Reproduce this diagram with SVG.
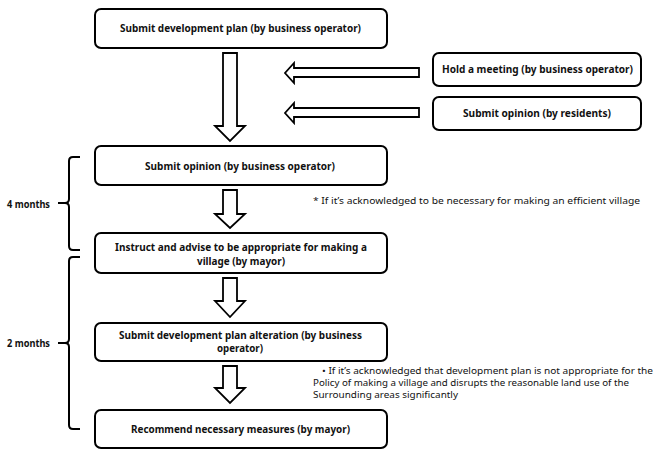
<svg xmlns="http://www.w3.org/2000/svg" width="654" height="450" viewBox="0 0 654 450">
<style>
.box{fill:#fff;stroke:#000;stroke-width:2}
.arr{fill:#fff;stroke:#000;stroke-width:1.8;stroke-linejoin:miter}
.br{fill:none;stroke:#000;stroke-width:2}
.t{font-family:"Noto Sans","Open Sans",sans-serif;font-weight:bold;font-size:10.5px;fill:#111;text-anchor:middle;dominant-baseline:central}
.n{font-family:"Noto Sans","Open Sans",sans-serif;font-size:9.5px;fill:#111;dominant-baseline:central}
</style>
<rect width="654" height="450" fill="#fff"/>
<g id="connectors">
<path class="arr" d="M223,53 L237,53 L237,126 L245,126 L230,141 L215,126 L223,126 Z"/>
<path class="arr" d="M419,68 L419,77 L294,77 L294,83 L285,73 L294,63 L294,68 Z"/>
<path class="arr" d="M419,108 L419,117 L294,117 L294,123 L285,113 L294,103 L294,108 Z"/>
<path class="arr" d="M223,190 L237,190 L237,214 L245,214 L230,228 L215,214 L223,214 Z"/>
<path class="arr" d="M223,278 L237,278 L237,301 L245,301 L230,317 L215,301 L223,301 Z"/>
<path class="arr" d="M223,366 L237,366 L237,388 L245,388 L230,403 L215,388 L223,388 Z"/>
</g>
<g id="n1"><rect class="box" x="95" y="9" width="292" height="39" rx="6"/><text class="t" x="240.5" y="28" textLength="241" lengthAdjust="spacingAndGlyphs">Submit development plan (by business operator)</text></g>
<g id="n2"><rect class="box" x="433" y="53" width="208" height="33" rx="6"/><text class="t" x="537.5" y="69" textLength="191" lengthAdjust="spacingAndGlyphs">Hold a meeting (by business operator)</text></g>
<g id="n3"><rect class="box" x="433" y="97" width="208" height="33" rx="6"/><text class="t" x="537" y="113" textLength="148" lengthAdjust="spacingAndGlyphs">Submit opinion (by residents)</text></g>
<g id="n4"><rect class="box" x="95" y="146" width="292" height="39" rx="6"/><text class="t" x="240" y="166" textLength="190" lengthAdjust="spacingAndGlyphs">Submit opinion (by business operator)</text></g>
<g id="n5"><rect class="box" x="95" y="233" width="292" height="40" rx="6"/><text class="t" x="241" y="247" textLength="252" lengthAdjust="spacingAndGlyphs">Instruct and advise to be appropriate for making a</text><text class="t" x="241" y="261" textLength="88" lengthAdjust="spacingAndGlyphs">village (by mayor)</text></g>
<g id="n6"><rect class="box" x="95" y="323" width="292" height="38" rx="6"/><text class="t" x="240.5" y="335" textLength="243" lengthAdjust="spacingAndGlyphs">Submit development plan alteration (by business</text><text class="t" x="240" y="348" textLength="46" lengthAdjust="spacingAndGlyphs">operator)</text></g>
<g id="n7"><rect class="box" x="95" y="410" width="292" height="38" rx="6"/><text class="t" x="240.5" y="429" textLength="219" lengthAdjust="spacingAndGlyphs">Recommend necessary measures (by mayor)</text></g>
<g id="braces">
<path class="br" d="M80,157 L73,157 Q69,157 69,161 L69,199 Q69,203 65,203 L58,203 M65,203 Q69,203 69,207 L69,246 Q69,250 73,250 L80,250"/>
<path class="br" d="M80,257 L73,257 Q69,257 69,261 L69,339 Q69,343 65,343 L58,343 M65,343 Q69,343 69,347 L69,425 Q69,429 73,429 L80,429"/>
<text class="n" x="7" y="204" style="font-weight:bold;font-size:10.5px" textLength="43" lengthAdjust="spacingAndGlyphs">4 months</text>
<text class="n" x="7" y="343" style="font-weight:bold;font-size:10.5px" textLength="43" lengthAdjust="spacingAndGlyphs">2 months</text>
</g>
<g id="notes">
<text class="n" x="313" y="200" textLength="327" lengthAdjust="spacingAndGlyphs">* If it’s acknowledged to be necessary for making an efficient village</text>
<text class="n" x="322" y="370" textLength="331" lengthAdjust="spacingAndGlyphs">•  If it’s acknowledged that development plan is not appropriate for the</text>
<text class="n" x="313" y="382" textLength="316" lengthAdjust="spacingAndGlyphs">Policy of making a village and disrupts the reasonable land use of the</text>
<text class="n" x="313" y="394" textLength="145" lengthAdjust="spacingAndGlyphs">Surrounding areas significantly</text>
</g>
</svg>
